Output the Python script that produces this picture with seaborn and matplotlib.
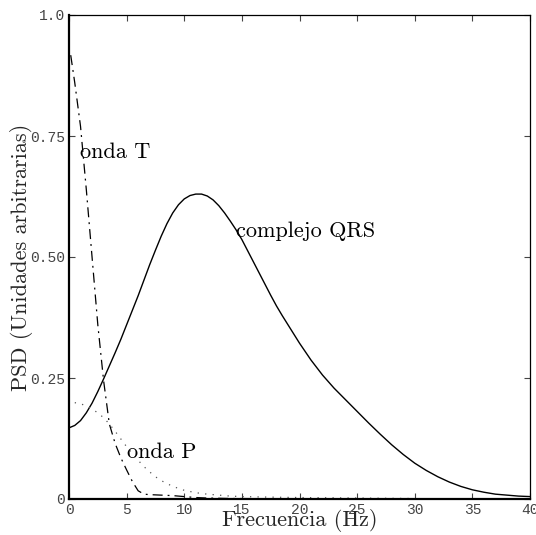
import matplotlib
matplotlib.use("Agg")
import matplotlib.pyplot as plt
import seaborn as sns
import pandas as pd

# QRS complex (solid)
qrs_f = [0, 0.5, 1, 1.5, 2, 2.5, 3, 3.5, 4, 4.5, 5, 5.5, 6, 6.5, 7, 7.5, 8, 8.5, 9, 9.5,
         10, 10.5, 11, 11.5, 12, 12.5, 13, 13.5, 14, 14.5, 15, 15.5, 16, 16.5, 17, 17.5,
         18, 18.5, 19, 19.5, 20, 21, 22, 23, 24, 25, 26, 27, 28, 29, 30, 31, 32, 33, 34,
         35, 36, 37, 38, 39, 40]
qrs_v = [0.147, 0.152, 0.162, 0.178, 0.198, 0.222, 0.248, 0.275, 0.302, 0.330, 0.360,
         0.390, 0.420, 0.452, 0.484, 0.514, 0.543, 0.569, 0.591, 0.608,
         0.620, 0.627, 0.630, 0.630, 0.626, 0.618, 0.606, 0.591, 0.574, 0.556, 0.536,
         0.513, 0.490, 0.467, 0.444, 0.421, 0.399, 0.379, 0.360, 0.341, 0.322, 0.287,
         0.256, 0.229, 0.205, 0.181, 0.157, 0.134, 0.112, 0.092, 0.074, 0.059, 0.046,
         0.035, 0.026, 0.019, 0.014, 0.010, 0.008, 0.006, 0.005]

# T wave (dash-dot)
t_f = [0.15, 0.5, 1, 1.5, 2, 2.5, 3, 3.5, 4, 4.5, 5, 5.5, 6, 6.5, 7, 8, 9, 10, 11, 12,
       14, 16, 20, 25, 30]
t_v = [0.917, 0.86, 0.77, 0.64, 0.50, 0.36, 0.245, 0.155, 0.115, 0.085, 0.060, 0.036,
       0.017, 0.010, 0.009, 0.008, 0.007, 0.005, 0.003, 0.002, 0.001, 0.0008, 0.0005,
       0.0003, 0.0002]

# P wave (dotted)
p_f = [0.5, 1, 1.5, 2, 2.5, 3, 3.5, 4, 4.5, 5, 5.5, 6, 6.5, 7, 7.5, 8, 9, 10, 11, 12,
       13, 14, 15, 17, 20, 25, 30]
p_v = [0.199, 0.197, 0.192, 0.186, 0.178, 0.168, 0.155, 0.140, 0.124, 0.108, 0.094,
       0.080, 0.067, 0.056, 0.046, 0.038, 0.026, 0.018, 0.013, 0.010, 0.008, 0.006,
       0.005, 0.004, 0.003, 0.002, 0.001]

x_ticks = [0, 5, 10, 15, 20, 25, 30, 35, 40]
x_tick_labels = ["0", "5", "10", "15", "20", "25", "30", "35", "40"]
y_ticks = [0, 0.25, 0.5, 0.75, 1.0]
y_tick_labels = ["0", "0.25", "0.50", "0.75", "1.0"]

labels = ["complejo QRS", "onda T", "onda P"]
label_pos = [(14.5, 0.554), (0.95, 0.717), (5.0, 0.097)]

sns.set_style("white")
plt.rcParams["font.family"] = ["cmr10", "DejaVu Serif"]
plt.rcParams["axes.formatter.use_mathtext"] = True

fig = plt.figure(figsize=(5.36, 5.35), dpi=100)
ax = fig.add_axes([69 / 536, 36 / 535, 461 / 536, 484 / 535])

qrs = pd.DataFrame({"f": qrs_f, "v": qrs_v})
tw = pd.DataFrame({"f": t_f, "v": t_v})
pw = pd.DataFrame({"f": p_f, "v": p_v})

sns.lineplot(data=qrs, x="f", y="v", ax=ax, color="black", linewidth=1.0)
sns.lineplot(data=tw, x="f", y="v", ax=ax, color="black", linewidth=0.9)
ax.lines[-1].set_dashes([8, 4, 1.5, 4])
sns.lineplot(data=pw, x="f", y="v", ax=ax, color="#555555", linewidth=0.9)
ax.lines[-1].set_dashes([1, 5])

for txt, (px, py) in zip(labels, label_pos):
    ax.text(px, py, txt, fontsize=16, va="center", ha="left", color="black")

ax.set_xlim(0, 40)
ax.set_ylim(0, 1.0)
ax.set_xticks(x_ticks)
ax.set_xticklabels(x_tick_labels)
ax.set_yticks(y_ticks)
ax.set_yticklabels(y_tick_labels)
for lab in ax.get_xticklabels() + ax.get_yticklabels():
    lab.set_fontfamily("Liberation Mono")
    lab.set_fontsize(10.5)
    lab.set_color("#444444")

ax.tick_params(direction="in", length=4, width=0.8, top=True, right=True,
               bottom=True, left=True, pad=3, colors="#444444", labelcolor="#444444")

ax.set_xlabel("Frecuencia (Hz)", fontsize=16, labelpad=-6)
ax.set_ylabel("PSD (Unidades arbitrarias)", fontsize=16, labelpad=-2)

for side in ["left", "bottom"]:
    ax.spines[side].set_linewidth(1.6)
for side in ["top", "right"]:
    ax.spines[side].set_linewidth(0.9)
for s in ax.spines.values():
    s.set_color("black")
    s.set_visible(True)

fig.savefig("out.png", dpi=100)
